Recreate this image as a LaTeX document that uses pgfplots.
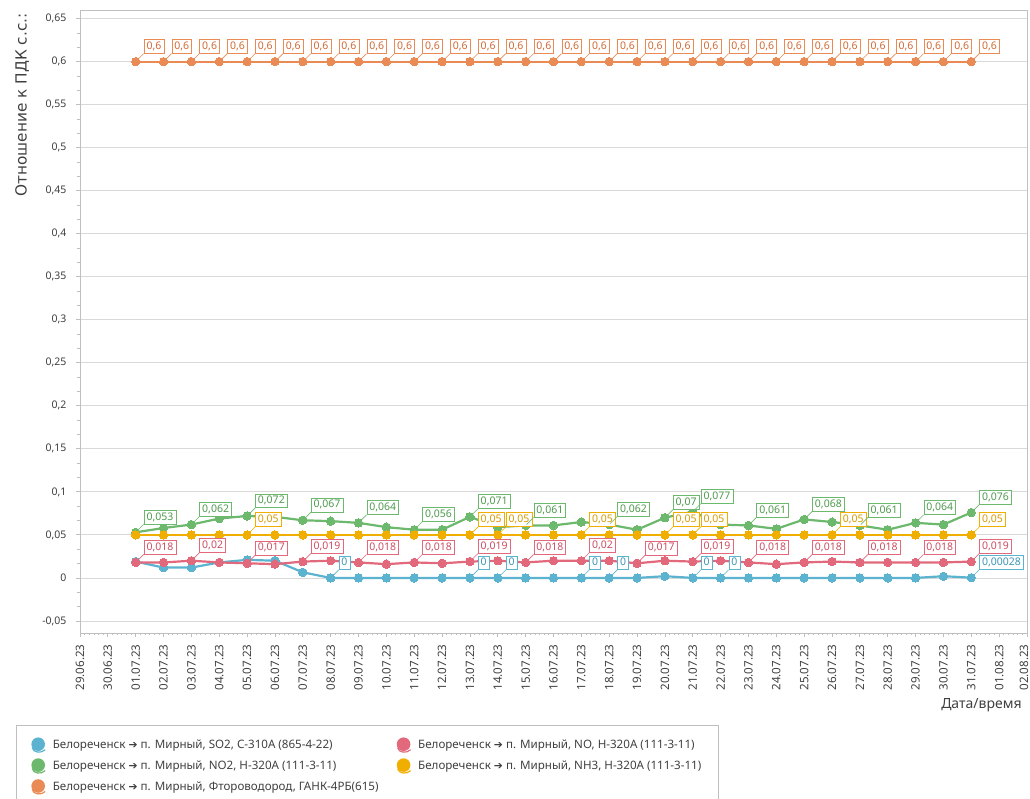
\documentclass[border=0pt]{standalone}
\usepackage{fontspec}
\setmainfont{Noto Sans}
\newfontfamily\dejavu{DejaVu Sans}
\usepackage{pgfplots}
\pgfplotsset{compat=1.18}
\usepackage{pgfplotstable}

\definecolor{cblue}{HTML}{5CB3CF}
\definecolor{cred}{HTML}{E2687C}
\definecolor{cgreen}{HTML}{6CB86C}
\definecolor{corange}{HTML}{EA8A55}
\definecolor{cyellow}{HTML}{F0AE00}
\definecolor{tblue}{HTML}{3D95B5}
\definecolor{tred}{HTML}{CC4D63}
\definecolor{tgreen}{HTML}{4E9A4E}
\definecolor{torange}{HTML}{D06A35}
\definecolor{tyellow}{HTML}{D99A00}
\definecolor{gridc}{HTML}{D9D9D9}
\definecolor{axisc}{HTML}{BFBFBF}
\definecolor{textc}{HTML}{404040}

\pgfplotstableread{
x blue red green yellow orange
1 0.019 0.018 0.053 0.05 0.6
2 0.012 0.018 0.058 0.05 0.6
3 0.012 0.020 0.062 0.05 0.6
4 0.018 0.018 0.069 0.05 0.6
5 0.021 0.017 0.072 0.05 0.6
6 0.020 0.016 0.071 0.05 0.6
7 0.0065 0.019 0.067 0.05 0.6
8 0 0.020 0.066 0.05 0.6
9 0 0.018 0.064 0.05 0.6
10 0 0.016 0.059 0.05 0.6
11 0 0.018 0.056 0.05 0.6
12 0 0.017 0.056 0.05 0.6
13 0 0.019 0.071 0.05 0.6
14 0 0.020 0.059 0.05 0.6
15 0 0.018 0.061 0.05 0.6
16 0 0.020 0.061 0.05 0.6
17 0 0.020 0.065 0.05 0.6
18 0 0.020 0.062 0.05 0.6
19 0 0.017 0.056 0.05 0.6
20 0.002 0.020 0.070 0.05 0.6
21 0 0.019 0.077 0.05 0.6
22 0 0.020 0.062 0.05 0.6
23 0 0.018 0.061 0.05 0.6
24 0 0.016 0.057 0.05 0.6
25 0 0.018 0.068 0.05 0.6
26 0 0.019 0.065 0.05 0.6
27 0 0.018 0.061 0.05 0.6
28 0 0.018 0.056 0.05 0.6
29 0 0.018 0.064 0.05 0.6
30 0.002 0.018 0.062 0.05 0.6
31 0.00028 0.019 0.076 0.05 0.6
}\data

\pgfplotstableread{
x y lab
8 0 0
13 0 0
14 0 0
17 0 0
18 0 0
21 0 0
22 0 0
31 0.00028 0,00028
}\labblue

\pgfplotstableread{
x y lab
1 0.018 0,018
3 0.020 0,02
5 0.017 0,017
7 0.019 0,019
9 0.018 0,018
11 0.018 0,018
13 0.019 0,019
15 0.018 0,018
17 0.020 0,02
19 0.017 0,017
21 0.019 0,019
23 0.018 0,018
25 0.018 0,018
27 0.018 0,018
29 0.018 0,018
31 0.019 0,019
}\labred

\pgfplotstableread{
x y lab
1 0.053 0,053
3 0.062 0,062
5 0.072 0,072
7 0.067 0,067
9 0.064 0,064
11 0.056 0,056
13 0.071 0,071
15 0.061 0,061
18 0.062 0,062
20 0.070 0,07
21 0.077 0,077
23 0.061 0,061
25 0.068 0,068
27 0.061 0,061
29 0.064 0,064
31 0.076 0,076
}\labgreen

\pgfplotstableread{
x y lab
5 0.05 0,05
13 0.05 0,05
14 0.05 0,05
17 0.05 0,05
20 0.05 0,05
21 0.05 0,05
26 0.05 0,05
31 0.05 0,05
}\labyellow

\pgfplotstableread{
x y lab
1 0.6 0,6
2 0.6 0,6
3 0.6 0,6
4 0.6 0,6
5 0.6 0,6
6 0.6 0,6
7 0.6 0,6
8 0.6 0,6
9 0.6 0,6
10 0.6 0,6
11 0.6 0,6
12 0.6 0,6
13 0.6 0,6
14 0.6 0,6
15 0.6 0,6
16 0.6 0,6
17 0.6 0,6
18 0.6 0,6
19 0.6 0,6
20 0.6 0,6
21 0.6 0,6
22 0.6 0,6
23 0.6 0,6
24 0.6 0,6
25 0.6 0,6
26 0.6 0,6
27 0.6 0,6
28 0.6 0,6
29 0.6 0,6
30 0.6 0,6
31 0.6 0,6
}\laborange

\newcommand{\arr}{{\dejavu\fontsize{10.8}{12}\selectfont ➔}}

\pgfplotsset{
  series/.style={color=#1, line width=2.2pt, mark=*, mark size=4.2pt,
    mark options={solid, fill=#1, draw=#1, line width=0pt}},
  dlabel/.style 2 args={forget plot, draw=none, mark=none,
    point meta=explicit symbolic, nodes near coords={\pgfplotspointmeta},
    every node near coord/.style={anchor=south west, xshift=8pt, yshift=8pt,
      draw=#1, line width=0.6pt, fill=white, text=#2, inner xsep=2.5pt, inner ysep=2pt,
      text height=7.8pt, text depth=2pt,
      font=\fontsize{10.5}{12}\selectfont,
      append after command={(\tikzlastnode.south west) edge[draw=#1, line width=0.6pt] ([shift={(-7pt,-7pt)}]\tikzlastnode.south west)}}},
}

\begin{document}
\begin{tikzpicture}
\useasboundingbox (-80pt,-166pt) rectangle (950pt,633pt);
\begin{axis}[
  at={(0,0)}, anchor=south west,
  scale only axis, width=947pt, height=623pt,
  xmin=-1, xmax=33, ymin=-0.064, ymax=0.66,
  xtick={-1,0,...,33},
  xticklabels={29.06.23,30.06.23,01.07.23,02.07.23,03.07.23,04.07.23,05.07.23,06.07.23,07.07.23,08.07.23,09.07.23,10.07.23,11.07.23,12.07.23,13.07.23,14.07.23,15.07.23,16.07.23,17.07.23,18.07.23,19.07.23,20.07.23,21.07.23,22.07.23,23.07.23,24.07.23,25.07.23,26.07.23,27.07.23,28.07.23,29.07.23,30.07.23,31.07.23,01.08.23,{\raisebox{3pt}[\height][0pt]{02.08.23}}},
  minor x tick num=5,
  ytick={-0.05,0,0.05,0.1,0.15,0.2,0.25,0.3,0.35,0.4,0.45,0.5,0.55,0.6,0.65},
  yticklabels={{-0,05},{0},{0,05},{0,1},{0,15},{0,2},{0,25},{0,3},{0,35},{0,4},{0,45},{0,5},{0,55},{0,6},{0,65}},
  minor y tick num=2,
  scaled y ticks=false,
  ymajorgrids, major grid style={gridc, line width=0.8pt},
  axis line style={axisc, line width=0.8pt},
  every tick/.style={axisc, line width=0.8pt},
  tick align=outside, tick pos=left,
  major tick length=4pt, minor tick length=2.5pt,
  xticklabel shift=4pt,
  yticklabel shift=6pt,
  xticklabel style={rotate=90, anchor=east, font=\fontsize{11.6}{13}\selectfont, text=textc},
  yticklabel style={font=\fontsize{10.5}{12}\selectfont, text=textc},
  ylabel={Отношение к ПДК с.с.:},
  ylabel style={at={(axis description cs:-0.0612,1)}, anchor=east,
    font=\dejavu\fontsize{15.3}{17}\selectfont, text=textc},
  xlabel={Дата/время},
  xlabel style={at={(axis description cs:0.998,-0.1)}, anchor=north east,
    font=\fontsize{14}{16}\selectfont, text=textc},
  legend columns=2,
  legend cell align=left,
  legend image code/.code={
    \draw[#1, line width=1.2pt, fill=none] (2pt,-3pt) .. controls (3pt,-8pt) and (11pt,-9pt) .. (15pt,-5pt);
    \fill[#1, draw=none] (8pt,0.5pt) circle (6.8pt);
  },
  legend style={at={(axis description cs:-0.0676,-0.1477)}, anchor=north west,
    draw=axisc, line width=0.8pt, fill=white, text=textc,
    font=\fontsize{11.6}{13}\selectfont,
    inner xsep=15pt, inner ysep=12pt, row sep=4pt,
    /tikz/every even column/.append style={column sep=4pt},
    /tikz/every odd column/.append style={column sep=5pt}},
]
\addplot[series=cblue] table[x=x, y=blue] {\data};
\addlegendentry{\makebox[338pt][l]{Белореченск \arr\ п. Мирный, SO2, С-310А (865-4-22)}}
\addplot[series=cred] table[x=x, y=red] {\data};
\addlegendentry{\makebox[282pt][l]{Белореченск \arr\ п. Мирный, NO, Н-320А (111-3-11)}}
\addplot[series=cgreen] table[x=x, y=green] {\data};
\addlegendentry{Белореченск \arr\ п. Мирный, NO2, Н-320А (111-3-11)}
\addplot[series=cyellow] table[x=x, y=yellow] {\data};
\addlegendentry{Белореченск \arr\ п. Мирный, NH3, Н-320А (111-3-11)}
\addplot[series=corange] table[x=x, y=orange] {\data};
\addlegendentry{Белореченск \arr\ п. Мирный, Фтороводород, ГАНК-4РБ(615)}

\addplot[dlabel={cyellow}{tyellow}] table[x=x, y=y, meta=lab] {\labyellow};
\addplot[dlabel={cblue}{tblue}] table[x=x, y=y, meta=lab] {\labblue};
\addplot[dlabel={cred}{tred}] table[x=x, y=y, meta=lab] {\labred};
\addplot[dlabel={cgreen}{tgreen}] table[x=x, y=y, meta=lab] {\labgreen};
\addplot[dlabel={corange}{torange}] table[x=x, y=y, meta=lab] {\laborange};
\end{axis}
\end{tikzpicture}
\end{document}
